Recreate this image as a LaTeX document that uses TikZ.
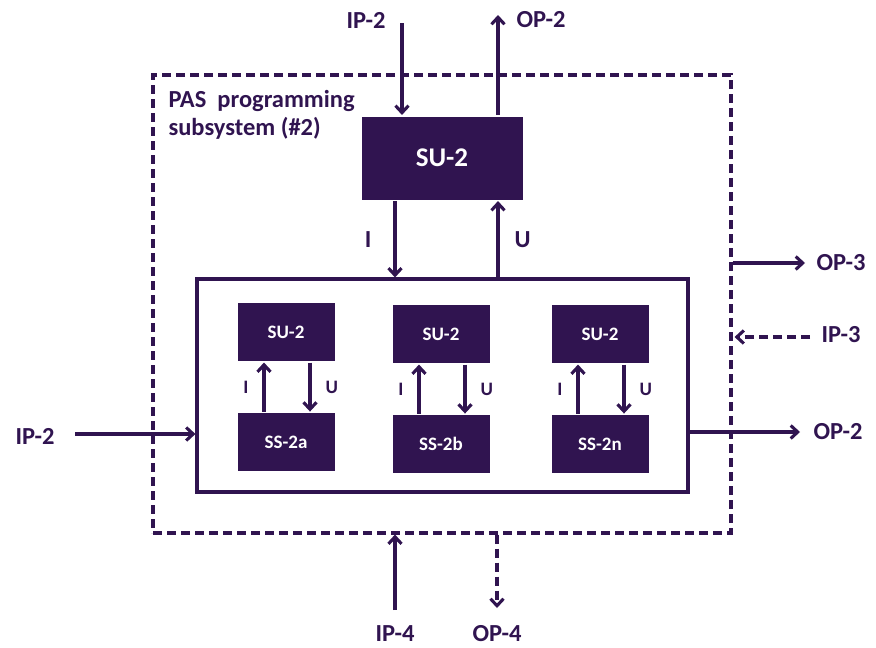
\documentclass[tikz,border=0pt]{standalone}
\usepackage{fontspec}
\setmainfont{Carlito}
\usetikzlibrary{arrows.meta,positioning}
\definecolor{pasviolet}{HTML}{301450}

\begin{document}
\begin{tikzpicture}[x=1pt, y=-1pt, >={Straight Barb[length=7pt,width=13pt]},
  line width=3.1pt, color=pasviolet,
  bigbox/.style={fill=pasviolet, text=white, minimum width=161pt, minimum height=83pt,
                 font=\fontsize{27}{30}\selectfont\bfseries},
  smallbox/.style={fill=pasviolet, text=white, minimum width=97pt, minimum height=58pt,
                   inner sep=0pt, font=\fontsize{19}{22}\selectfont\bfseries},
  lbl/.style={text=pasviolet, inner sep=0pt, font=\fontsize{24.5}{28}\selectfont\bfseries},
  tinylbl/.style={text=pasviolet, inner sep=0pt, font=\fontsize{19}{22}\selectfont\bfseries},
  dsh/.style={dash pattern=on 9pt off 5pt}]
\useasboundingbox (0,0) rectangle (876,648);
% frames
\node[draw, dsh, minimum width=578pt, minimum height=458pt] (pas) at (442,304) {};
\node[draw, minimum width=491pt, minimum height=213pt] (grp) at (442.5,385.5) {};
\node[lbl, anchor=north west, align=left] (pastitle) at (167,89)
  {PAS\ \ programming\\subsystem (\#2)};
% boxes
\node[bigbox] (su) at (442,158) {SU-2};
\node[smallbox] (sua) at (286,332) {SU-2};
\node[smallbox] (sub) at (441,334) {SU-2};
\node[smallbox] (sun) at (600,334) {SU-2};
\node[smallbox, below=49pt of sua] (ssa) {SS-2a};
\node[smallbox, below=49pt of sub] (ssb) {SS-2b};
\node[smallbox, below=49pt of sun] (ssn) {SS-2n};
% outer labels
\node[lbl] (ip2toplbl) at (366,20) {IP-2};
\node[lbl] (op2toplbl) at (541,20) {OP-2};
\node[lbl] (ip2leftlbl) at (35,436) {IP-2};
\node[lbl, anchor=west] (op2rlbl) at (812,432) {OP-2};
\node[lbl, anchor=west] (op3lbl) at (815,263) {OP-3};
\node[lbl, anchor=west] (ip3lbl) at (820,335) {IP-3};
\node[lbl] (ip4lbl) at (395,634) {IP-4};
\node[lbl] (op4lbl) at (497,634) {OP-4};
% free ends
\coordinate (ip2in) at (402,23);
\coordinate (op2out) at (498,15);
\coordinate (ip2lin) at (75,434);
\coordinate (op2rout) at (800,432);
\coordinate (op3out) at (805,263);
\coordinate (ip3in) at (810,337);
\coordinate (ip4in) at (395,610);
\coordinate (op4out) at (497,608);
% connectors
\draw[->] (ip2in) -- (su.north -| ip2in);
\draw[->] (su.north -| op2out) -- (op2out);
\draw[->] ([xshift=-47pt]su.south) -- node[lbl, left=22pt] {I} ([xshift=-47pt]su.south |- grp.north);
\draw[->] ([xshift=56pt]su.south |- grp.north) -- node[lbl, right=15pt] {U} ([xshift=56pt]su.south);
\draw[->] ([xshift=-22pt]ssa.north) -- node[tinylbl, left=14pt] {I} ([xshift=-22pt]sua.south);
\draw[->] ([xshift=24pt]sua.south) -- node[tinylbl, right=14pt] {U} ([xshift=24pt]ssa.north);
\draw[->] ([xshift=-22pt]ssb.north) -- node[tinylbl, left=14pt] {I} ([xshift=-22pt]sub.south);
\draw[->] ([xshift=24pt]sub.south) -- node[tinylbl, right=14pt] {U} ([xshift=24pt]ssb.north);
\draw[->] ([xshift=-22pt]ssn.north) -- node[tinylbl, left=14pt] {I} ([xshift=-22pt]sun.south);
\draw[->] ([xshift=24pt]sun.south) -- node[tinylbl, right=14pt] {U} ([xshift=24pt]ssn.north);
\draw[->] (ip2lin) -- (grp.west |- ip2lin);
\draw[->] (grp.east |- op2rout) -- (op2rout);
\draw[->] (pas.east |- op3out) -- (op3out);
\draw[->, dsh] (ip3in) -- ([xshift=2pt]pas.east |- ip3in);
\draw[->] (ip4in) -- (pas.south -| ip4in);
\draw[->, dsh] (pas.south -| op4out) -- (op4out);
\end{tikzpicture}
\end{document}
